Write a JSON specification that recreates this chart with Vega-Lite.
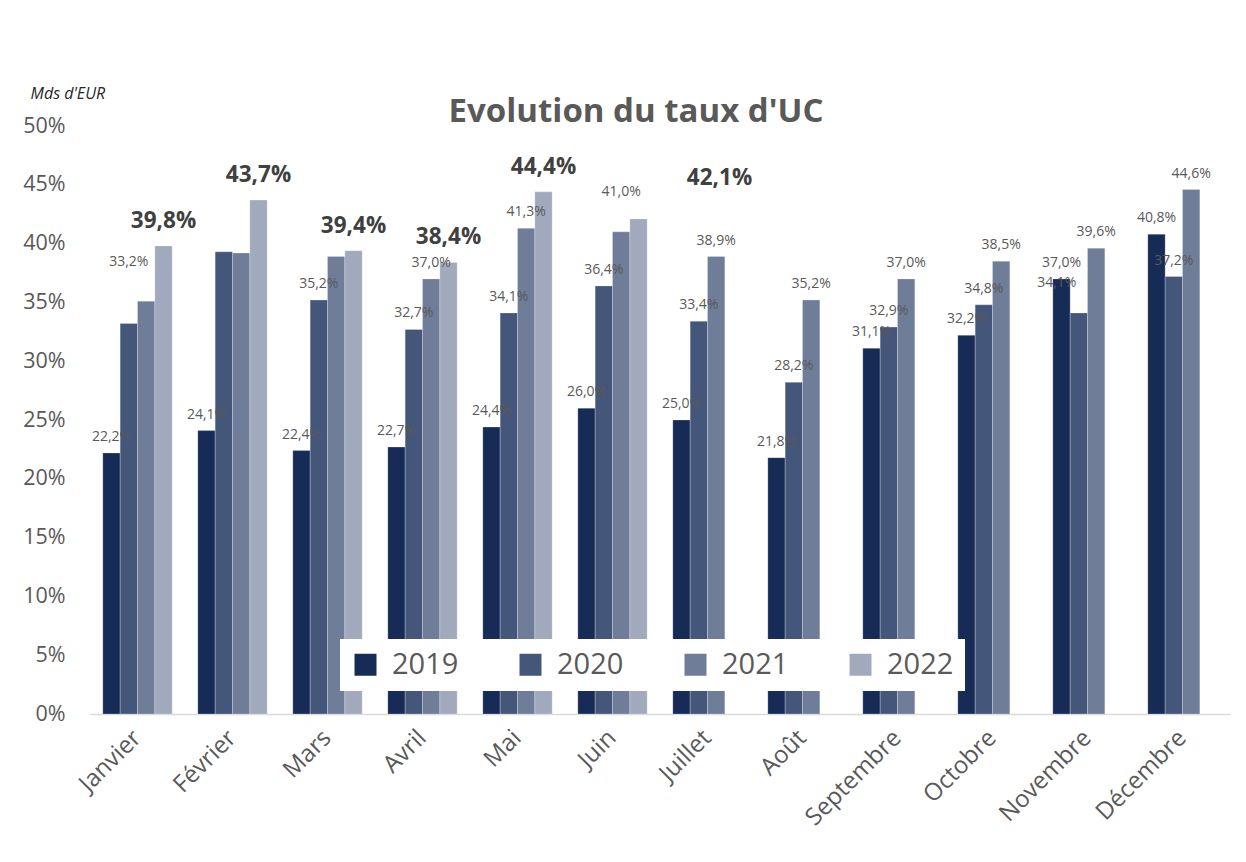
{
  "$schema": "https://vega.github.io/schema/vega-lite/v6.json",
  "width": 1140,
  "height": 588,
  "autosize": {"type": "none"},
  "padding": {"left": 90, "top": 126, "right": 16, "bottom": 148},
  "background": "white",
  "config": {
    "font": "Open Sans",
    "view": {"stroke": null},
    "locale": {"number": {"decimal": ",", "thousands": " ", "grouping": [3], "currency": ["", " €"]}}
  },
  "title": {
    "text": "Evolution du taux d'UC",
    "fontSize": 33,
    "fontWeight": "bold",
    "color": "#595959",
    "anchor": "middle",
    "dx": -24,
    "offset": -44
  },
  "data": {
    "values": [
      {"mois": "Janvier", "annee": "2019", "taux": 0.222, "etiq": true},
      {"mois": "Janvier", "annee": "2020", "taux": 0.332, "etiq": true},
      {"mois": "Janvier", "annee": "2021", "taux": 0.351, "etiq": false},
      {"mois": "Janvier", "annee": "2022", "taux": 0.398, "etiq": true},
      {"mois": "Février", "annee": "2019", "taux": 0.241, "etiq": true},
      {"mois": "Février", "annee": "2020", "taux": 0.393, "etiq": false},
      {"mois": "Février", "annee": "2021", "taux": 0.392, "etiq": false},
      {"mois": "Février", "annee": "2022", "taux": 0.437, "etiq": true},
      {"mois": "Mars", "annee": "2019", "taux": 0.224, "etiq": true},
      {"mois": "Mars", "annee": "2020", "taux": 0.352, "etiq": true},
      {"mois": "Mars", "annee": "2021", "taux": 0.389, "etiq": false},
      {"mois": "Mars", "annee": "2022", "taux": 0.394, "etiq": true},
      {"mois": "Avril", "annee": "2019", "taux": 0.227, "etiq": true},
      {"mois": "Avril", "annee": "2020", "taux": 0.327, "etiq": true},
      {"mois": "Avril", "annee": "2021", "taux": 0.370, "etiq": true},
      {"mois": "Avril", "annee": "2022", "taux": 0.384, "etiq": true},
      {"mois": "Mai", "annee": "2019", "taux": 0.244, "etiq": true},
      {"mois": "Mai", "annee": "2020", "taux": 0.341, "etiq": true},
      {"mois": "Mai", "annee": "2021", "taux": 0.413, "etiq": true},
      {"mois": "Mai", "annee": "2022", "taux": 0.444, "etiq": true},
      {"mois": "Juin", "annee": "2019", "taux": 0.260, "etiq": true},
      {"mois": "Juin", "annee": "2020", "taux": 0.364, "etiq": true},
      {"mois": "Juin", "annee": "2021", "taux": 0.410, "etiq": true},
      {"mois": "Juin", "annee": "2022", "taux": 0.421, "etiq": true},
      {"mois": "Juillet", "annee": "2019", "taux": 0.250, "etiq": true},
      {"mois": "Juillet", "annee": "2020", "taux": 0.334, "etiq": true},
      {"mois": "Juillet", "annee": "2021", "taux": 0.389, "etiq": true},
      {"mois": "Août", "annee": "2019", "taux": 0.218, "etiq": true},
      {"mois": "Août", "annee": "2020", "taux": 0.282, "etiq": true},
      {"mois": "Août", "annee": "2021", "taux": 0.352, "etiq": true},
      {"mois": "Septembre", "annee": "2019", "taux": 0.311, "etiq": true},
      {"mois": "Septembre", "annee": "2020", "taux": 0.329, "etiq": true},
      {"mois": "Septembre", "annee": "2021", "taux": 0.370, "etiq": true},
      {"mois": "Octobre", "annee": "2019", "taux": 0.322, "etiq": true},
      {"mois": "Octobre", "annee": "2020", "taux": 0.348, "etiq": true},
      {"mois": "Octobre", "annee": "2021", "taux": 0.385, "etiq": true},
      {"mois": "Novembre", "annee": "2019", "taux": 0.370, "etiq": true},
      {"mois": "Novembre", "annee": "2020", "taux": 0.341, "etiq": true},
      {"mois": "Novembre", "annee": "2021", "taux": 0.396, "etiq": true},
      {"mois": "Décembre", "annee": "2019", "taux": 0.408, "etiq": true},
      {"mois": "Décembre", "annee": "2020", "taux": 0.372, "etiq": true},
      {"mois": "Décembre", "annee": "2021", "taux": 0.446, "etiq": true}
    ]
  },
  "encoding": {
    "x": {
      "field": "mois",
      "type": "nominal",
      "sort": ["Janvier", "Février", "Mars", "Avril", "Mai", "Juin", "Juillet", "Août", "Septembre", "Octobre", "Novembre", "Décembre"],
      "scale": {"paddingInner": 0.27, "paddingOuter": 0.135},
      "axis": {
        "title": null,
        "labelAngle": -45,
        "labelAlign": "right",
        "labelBaseline": "middle",
        "labelFontSize": 24,
        "labelColor": "#595959",
        "labelPadding": 20,
        "ticks": false,
        "domainColor": "#D9D9D9",
        "domainWidth": 1.5
      }
    },
    "xOffset": {
      "field": "annee",
      "type": "nominal",
      "scale": {"domain": ["2019", "2020", "2021", "2022"], "paddingInner": 0, "paddingOuter": 0}
    },
    "y": {
      "field": "taux",
      "type": "quantitative",
      "scale": {"domain": [0, 0.5], "nice": false},
      "axis": {
        "title": "Mds d'EUR",
        "titleAngle": 0,
        "titleAlign": "left",
        "titleBaseline": "middle",
        "titleX": -60,
        "titleY": -33,
        "titleFontSize": 16,
        "titleFontStyle": "italic",
        "titleFontWeight": "normal",
        "titleColor": "#262626",
        "format": ".0%",
        "values": [0, 0.05, 0.1, 0.15, 0.2, 0.25, 0.3, 0.35, 0.4, 0.45, 0.5],
        "labelFontSize": 21.5,
        "labelColor": "#595959",
        "labelPadding": 25,
        "grid": false,
        "ticks": false,
        "domain": false
      }
    }
  },
  "layer": [
    {
      "mark": {"type": "bar", "stroke": "#ffffff", "strokeWidth": 0.4, "strokeOpacity": 0.6},
      "encoding": {
        "color": {
          "field": "annee",
          "type": "nominal",
          "scale": {"domain": ["2019", "2020", "2021", "2022"], "range": ["#172B57", "#44567A", "#6F7D99", "#A1AABD"]},
          "legend": {
            "title": null,
            "orient": "none",
            "direction": "horizontal",
            "legendX": 250,
            "legendY": 513,
            "symbolType": "square",
            "symbolSize": 484,
            "symbolStrokeWidth": 0,
            "labelFontSize": 29,
            "labelColor": "#595959",
            "labelOffset": 12,
            "columnPadding": 57,
            "fillColor": "white",
            "padding": 11
          }
        }
      }
    },
    {
      "transform": [{"filter": "datum.etiq && datum.annee != '2022' && !(datum.mois == 'Janvier' && datum.annee == '2020') && !(datum.mois == 'Juin' && datum.annee == '2021') && !(datum.mois == 'Novembre' && datum.annee == '2020')"}],
      "mark": {"type": "text", "baseline": "bottom", "dy": -9, "fontSize": 14, "color": "#595959"},
      "encoding": {"text": {"field": "taux", "type": "quantitative", "format": ".1%"}}
    },
    {
      "transform": [{"filter": "datum.mois == 'Janvier' && datum.annee == '2020'"}],
      "mark": {"type": "text", "baseline": "bottom", "dy": -55, "fontSize": 14, "color": "#595959"},
      "encoding": {"text": {"field": "taux", "type": "quantitative", "format": ".1%"}}
    },
    {
      "transform": [{"filter": "datum.mois == 'Juin' && datum.annee == '2021'"}],
      "mark": {"type": "text", "baseline": "bottom", "dy": -33, "fontSize": 14, "color": "#595959"},
      "encoding": {"text": {"field": "taux", "type": "quantitative", "format": ".1%"}}
    },
    {
      "transform": [{"filter": "datum.mois == 'Novembre' && datum.annee == '2020'"}],
      "mark": {"type": "text", "baseline": "bottom", "dy": -23, "dx": -22, "fontSize": 14, "color": "#595959"},
      "encoding": {"text": {"field": "taux", "type": "quantitative", "format": ".1%"}}
    },
    {
      "transform": [{"filter": "datum.etiq && datum.annee == '2022' && datum.mois != 'Juin'"}],
      "mark": {"type": "text", "baseline": "bottom", "dy": -13, "fontSize": 22.5, "fontWeight": "bold", "color": "#404040"},
      "encoding": {"text": {"field": "taux", "type": "quantitative", "format": ".1%"}}
    },
    {
      "transform": [{"filter": "datum.mois == 'Juin' && datum.annee == '2022'"}],
      "mark": {"type": "text", "baseline": "bottom", "dy": -29, "dx": 81, "fontSize": 22.5, "fontWeight": "bold", "color": "#404040"},
      "encoding": {"text": {"field": "taux", "type": "quantitative", "format": ".1%"}}
    }
  ]
}
